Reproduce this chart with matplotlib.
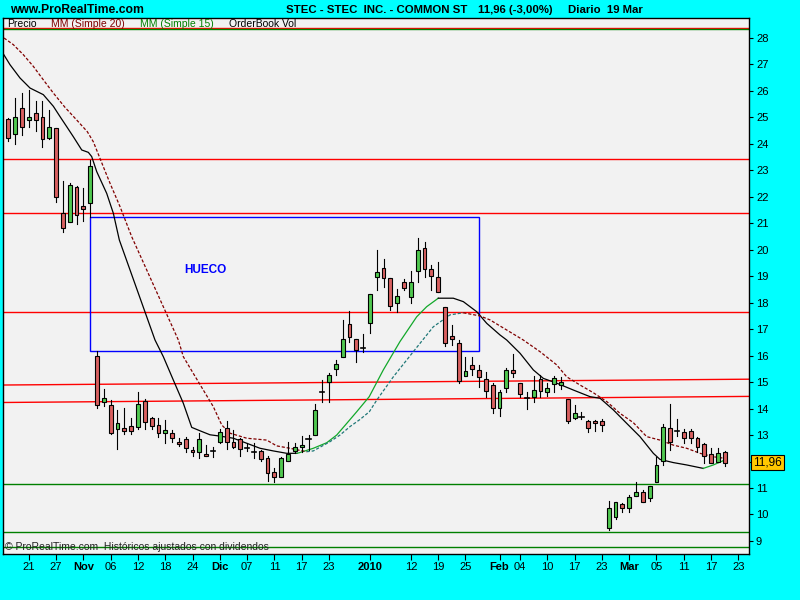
import matplotlib
matplotlib.use("Agg")
import matplotlib.pyplot as plt
import matplotlib.transforms as mtransforms
from matplotlib.patches import Rectangle
import pandas as pd

plt.rcParams["font.family"] = ["Liberation Sans", "DejaVu Sans"]

# trading calendar (NASDAQ), first visible candle .. last axis tick
FIRST_DAY = "2009-10-16"
LAST_AXIS_DAY = "2010-03-23"
HOLIDAYS = ["2009-11-26", "2009-12-25", "2010-01-01", "2010-01-18", "2010-02-15"]

# daily OHLC, Oct 16 2009 .. Mar 19 2010
opens = [24.93, 24.36, 25.34, 24.89, 25.16, 25.03, 24.21, 24.59, 21.40, 21.04,
         22.36, 21.65, 21.76, 15.99, 14.25, 14.12, 13.22, 13.25, 13.33, 13.29,
         14.27, 13.63, 13.37, 13.07, 13.07, 12.73, 12.84, 12.42, 12.35, 12.27,
         12.39, 12.73, 13.25, 12.73, 12.84, 12.50, 12.35, 12.39, 12.12, 11.59,
         11.43, 12.03, 12.41, 12.54, 12.85, 13.00, 14.64, 14.99, 15.48, 15.94,
         17.18, 16.63, 16.30, 17.22, 18.98, 19.30, 18.92, 17.98, 18.77, 18.20,
         19.21, 20.06, 19.26, 18.98, 17.83, 16.74, 16.47, 15.24, 15.64, 15.45,
         15.11, 14.89, 14.03, 14.77, 15.46, 14.98, 14.41, 14.43, 15.11, 14.62,
         14.92, 14.90, 14.35, 13.66, 13.69, 13.53, 13.53, 13.53, 9.50, 9.92,
         10.38, 10.23, 10.71, 10.86, 10.61, 11.24, 12.03, 13.25, 13.16, 13.10,
         13.15, 12.88, 12.65, 12.28, 11.99, 12.35]
highs = [24.97, 25.72, 25.93, 26.04, 25.63, 25.63, 25.28, 24.59, 22.60, 22.51,
         22.41, 22.32, 23.39, 16.18, 14.73, 14.32, 13.95, 14.01, 13.63, 14.64,
         14.35, 13.69, 13.63, 13.57, 13.19, 12.88, 12.94, 12.54, 13.09, 12.61,
         12.56, 13.22, 13.54, 13.19, 12.88, 12.69, 12.69, 12.44, 12.20, 11.74,
         12.16, 12.72, 12.69, 12.96, 13.00, 14.16, 15.08, 15.33, 15.84, 17.35,
         17.70, 16.63, 16.82, 18.32, 19.99, 19.64, 18.92, 18.51, 18.88, 19.21,
         20.43, 20.28, 19.42, 19.55, 17.83, 17.15, 16.59, 15.94, 15.96, 15.64,
         15.39, 14.96, 14.70, 15.52, 16.06, 14.98, 14.64, 15.23, 15.27, 14.98,
         15.23, 15.18, 14.35, 14.14, 13.86, 13.57, 13.57, 13.61, 10.51, 10.46,
         10.45, 10.74, 11.21, 10.93, 11.09, 12.16, 13.42, 14.17, 13.59, 13.22,
         13.24, 12.94, 12.71, 12.50, 12.50, 12.41]
lows = [24.12, 23.98, 24.34, 24.65, 24.50, 23.89, 24.17, 21.79, 20.68, 21.04,
        20.97, 21.10, 21.24, 14.01, 14.11, 13.03, 12.46, 13.03, 13.03, 13.22,
        13.22, 13.22, 12.92, 12.69, 12.72, 12.59, 12.35, 12.21, 12.12, 12.20,
        12.16, 12.69, 12.46, 12.50, 12.21, 12.38, 12.12, 12.03, 11.28, 11.21,
        11.40, 12.03, 12.31, 12.37, 12.44, 13.00, 14.26, 14.26, 15.27, 15.94,
        16.50, 15.77, 16.12, 16.87, 18.48, 18.60, 17.72, 17.66, 18.48, 18.00,
        18.79, 18.96, 18.48, 18.39, 16.37, 16.40, 14.96, 15.24, 15.27, 14.82,
        14.45, 13.82, 13.72, 14.64, 15.18, 14.45, 13.97, 14.26, 14.45, 14.48,
        14.64, 14.73, 13.47, 13.61, 13.61, 13.13, 13.17, 13.17, 9.41, 9.83,
        10.10, 10.10, 10.71, 10.48, 10.52, 11.24, 11.87, 12.44, 12.96, 12.69,
        12.69, 12.37, 11.95, 11.93, 11.99, 11.83]
closes = [24.21, 25.00, 24.63, 25.00, 24.89, 24.17, 24.65, 22.00, 20.81, 22.44,
          21.30, 21.55, 23.16, 14.12, 14.39, 13.09, 13.44, 13.14, 13.14, 14.16,
          13.48, 13.33, 13.07, 13.18, 12.88, 12.65, 12.50, 12.35, 12.84, 12.20,
          12.39, 13.10, 12.73, 12.56, 12.46, 12.50, 12.35, 12.08, 11.56, 11.40,
          12.12, 12.28, 12.54, 12.62, 12.85, 13.95, 14.64, 15.27, 15.68, 16.63,
          16.72, 16.21, 16.30, 18.32, 19.15, 18.92, 17.89, 18.25, 18.57, 18.77,
          19.99, 19.26, 19.02, 18.39, 16.47, 16.62, 15.04, 15.42, 15.48, 15.18,
          14.68, 14.01, 14.64, 15.46, 15.33, 14.54, 14.41, 14.70, 14.68, 14.77,
          15.14, 14.99, 13.52, 13.82, 13.69, 13.25, 13.44, 13.37, 10.23, 10.46,
          10.23, 10.65, 10.86, 10.48, 11.09, 11.87, 13.29, 12.73, 13.16, 12.88,
          12.88, 12.56, 12.21, 11.93, 12.33, 11.96]

# moving averages (x in trading-day index)
ma15_days = [-0.73, 0.25, 1.71, 3.18, 5.13, 6.6, 7.58, 8.56, 9.53, 10.76, 11.73,
             12.22, 12.96, 14.42, 15.39, 16.27, 21.5, 22.72, 24.18, 25.65, 26.88,
             28.1, 29.56, 31.03, 32.98, 34.94, 36.89, 38.84, 40.8, 42.31, 42.75,
             44.7, 46.67, 48.13, 49.6, 51.06, 52.9, 54.96, 57.4, 59.86, 61.32,
             63.02, 65.22, 66.69, 68.65, 70.12, 72.07, 73.05, 75.0, 76.95, 78.42,
             80.38, 82.82, 85.26, 86.73, 88.68, 90.64, 92.58, 94.54, 95.51, 97.46,
             99.43, 101.86, 103.33, 105.04]
ma15_vals = [27.40, 26.99, 26.49, 26.11, 25.86, 25.42, 25.03, 24.65, 24.27, 23.77,
             23.68, 23.52, 22.95, 22.13, 21.38, 20.37, 16.59, 15.96, 15.08, 14.20,
             13.29, 13.16, 13.01, 12.96, 12.88, 12.69, 12.50, 12.40, 12.31, 12.31,
             12.34, 12.50, 12.71, 13.00, 13.44, 13.88, 14.45, 15.46, 16.53, 17.47,
             17.85, 18.17, 18.17, 18.04, 17.66, 17.22, 16.78, 16.59, 16.09, 15.46,
             15.14, 14.96, 14.70, 14.45, 14.39, 13.95, 13.44, 12.94, 12.31, 12.08,
             11.96, 11.87, 11.74, 11.87, 12.06]
ma20_days = [-0.63, 0.73, 2.2, 3.66, 5.13, 6.6, 8.31, 10.03, 11.58, 12.46, 13.92,
             14.91, 16.37, 18.09, 24.92, 25.65, 27.11, 28.58, 30.05, 31.28, 32.49,
             34.94, 37.87, 39.34, 41.29, 42.75, 43.73, 44.7, 47.15, 48.61, 50.08,
             51.55, 52.91, 54.0, 56.43, 59.36, 62.29, 64.74, 66.69, 69.13, 70.6,
             75.48, 77.93, 80.38, 81.84, 83.79, 85.74, 87.73, 89.65, 91.6, 93.56,
             95.51, 97.46, 99.43, 101.38, 103.33, 105.04]
ma20_vals = [28.00, 27.75, 27.37, 26.93, 26.42, 25.92, 25.38, 24.90, 24.46, 24.08,
             23.14, 22.51, 21.63, 20.49, 16.59, 15.96, 15.33, 14.70, 14.07, 13.38,
             13.07, 12.88, 12.81, 12.59, 12.50, 12.42, 12.37, 12.40, 12.75, 13.00,
             13.32, 13.59, 13.88, 14.32, 15.20, 16.15, 17.09, 17.54, 17.62, 17.50,
             17.35, 16.59, 16.15, 15.65, 15.20, 14.89, 14.60, 14.26, 13.82, 13.47,
             12.94, 12.81, 12.62, 12.50, 12.31, 12.18, 12.12]

tick_dates = ["2009-10-21", "2009-10-27", "2009-11-02", "2009-11-06", "2009-11-12",
              "2009-11-18", "2009-11-24", "2009-12-01", "2009-12-07", "2009-12-11",
              "2009-12-17", "2009-12-23", "2010-01-04", "2010-01-12", "2010-01-19",
              "2010-01-25", "2010-02-01", "2010-02-04", "2010-02-10", "2010-02-17",
              "2010-02-23", "2010-03-01", "2010-03-05", "2010-03-11", "2010-03-17",
              "2010-03-23"]
tick_labels = ["21", "27", "Nov", "06", "12", "18", "24", "Dic", "07", "11", "17",
               "23", "2010", "12", "19", "25", "Feb", "04", "10", "17", "23", "Mar",
               "05", "11", "17", "23"]
bold_labels = ["Nov", "Dic", "2010", "Feb", "Mar"]
price_ticks = list(range(9, 29))

# user drawings
red_levels = [28.37, 23.42, 21.38, 17.65]
green_levels = [28.33, 11.14, 9.33, 8.77]
red_trend_left = [14.89, 14.23]
red_trend_right = [15.11, 14.46]
gap_first_day, gap_last_day = 12, 69
gap_low, gap_high = 16.18, 21.24

last_close = 11.96

X_MIN, X_MAX = -0.78, 108.56
Y_MIN, Y_MAX = 8.506, 28.756
UP_COLOR = "#50C850"
DOWN_COLOR = "#D86060"


def draw_candles(ax):
    for i, (o, h, l, c) in enumerate(zip(opens, highs, lows, closes)):
        ax.plot([i, i], [l, h], color="black", lw=0.8, zorder=4)
        if abs(c - o) < 0.02:
            ax.plot([i - 0.32, i + 0.32], [c, c], color="black", lw=1.2, zorder=5)
            continue
        color = UP_COLOR if c > o else DOWN_COLOR
        ax.add_patch(Rectangle((i - 0.28, min(o, c)), 0.56, abs(c - o),
                               facecolor=color, edgecolor="black", lw=0.8, zorder=5))


def draw_ma(ax, days, vals, down_color, up_color, style):
    # colour each run by direction: falling vs rising
    start = 0
    for k in range(1, len(vals)):
        rising = vals[k] > vals[k - 1]
        nxt_rising = k + 1 < len(vals) and vals[k + 1] > vals[k]
        if k == len(vals) - 1 or rising != nxt_rising:
            ax.plot(days[start:k + 1], vals[start:k + 1],
                    color=up_color if rising else down_color,
                    lw=0.9, linestyle=style, zorder=3)
            start = k


fig = plt.figure(figsize=(8, 6), dpi=100, facecolor="#00FFFF")
ax = fig.add_axes([3 / 800, 46 / 600, 746 / 800, 536 / 600])
ax.set_facecolor("#F2F2F2")

days = pd.bdate_range(FIRST_DAY, LAST_AXIS_DAY, freq="C", holidays=HOLIDAYS)
day_index = {d.strftime("%Y-%m-%d"): i for i, d in enumerate(days)}

for level in red_levels:
    ax.axhline(level, color="#FF0000", lw=1.0, zorder=2)
for level in green_levels:
    ax.axhline(level, color="#008000", lw=1.0, zorder=2)
for y0, y1 in zip(red_trend_left, red_trend_right):
    ax.plot([X_MIN, X_MAX], [y0, y1], color="#FF0000", lw=1.0, zorder=2)

ax.add_patch(Rectangle((gap_first_day, gap_low), gap_last_day - gap_first_day,
                       gap_high - gap_low, fill=False, edgecolor="#0000FF", lw=1.0, zorder=2))
ax.text(28.9, 19.24, "HUECO", color="#0000FF", fontsize=8.5, fontweight="bold",
        ha="center", va="center")

draw_ma(ax, ma15_days, ma15_vals, "black", "#12A82A", "-")
draw_ma(ax, ma20_days, ma20_vals, "#800000", "#207878", (0, (2.5, 1.5)))
draw_candles(ax)

ax.set_xlim(X_MIN, X_MAX)
ax.set_ylim(Y_MIN, Y_MAX)

# the last-price box sits over the "12" label on the right axis
ax.yaxis.tick_right()
ax.set_yticks(price_ticks)
ax.set_yticklabels(["" if p == round(last_close) else str(p) for p in price_ticks])
ax.tick_params(axis="y", direction="out", length=3, width=0.8, pad=2, labelsize=8)
ax.set_xticks([day_index[d] for d in tick_dates])
ax.set_xticklabels(tick_labels)
for lbl in ax.get_xticklabels():
    if lbl.get_text() in bold_labels:
        lbl.set_fontweight("bold")
ax.tick_params(axis="x", direction="out", length=4, width=0.8, pad=2, labelsize=8)
for spine in ax.spines.values():
    spine.set_linewidth(1.0)
    spine.set_color("black")

# legend row inside the frame
legend_items = [("Precio", "black", 0.0054), ("MM (Simple 20)", "#800000", 0.0643),
                ("MM (Simple 15)", "#008000", 0.1836), ("OrderBook Vol", "black", 0.303)]
for text, color, xpos in legend_items:
    ax.text(xpos, 0.9885, text, color=color, fontsize=7.5, transform=ax.transAxes,
            ha="left", va="center")

ax.text(0.003, 0.013, "\u00a9 ProRealTime.com  Hist\u00f3ricos ajustados con dividendos",
        fontsize=7.5, color="#202020", transform=ax.transAxes, ha="left", va="center")

# last price marker on the right axis
trans = mtransforms.blended_transform_factory(ax.transAxes, ax.transData)
ax.text(1.0055, last_close, "11,96", transform=trans, fontsize=8.5, ha="left",
        va="center", bbox=dict(boxstyle="square,pad=0.15", facecolor="#FFC800",
                                edgecolor="black", lw=0.8), clip_on=False, zorder=10)

fig.text(10 / 800, 1 - 10 / 600, "www.ProRealTime.com", fontsize=8.7, fontweight="bold",
         ha="left", va="center")
fig.text(286 / 800, 1 - 10 / 600, "STEC - STEC  INC. - COMMON ST", fontsize=8.2,
         fontweight="bold", ha="left", va="center")
fig.text(478 / 800, 1 - 10 / 600, "11,96 (-3,00%)", fontsize=8.2, fontweight="bold",
         ha="left", va="center")
fig.text(568 / 800, 1 - 10 / 600, "Diario  19 Mar", fontsize=8.2, fontweight="bold",
         ha="left", va="center")

fig.savefig("out.png", dpi=100, facecolor=fig.get_facecolor())
